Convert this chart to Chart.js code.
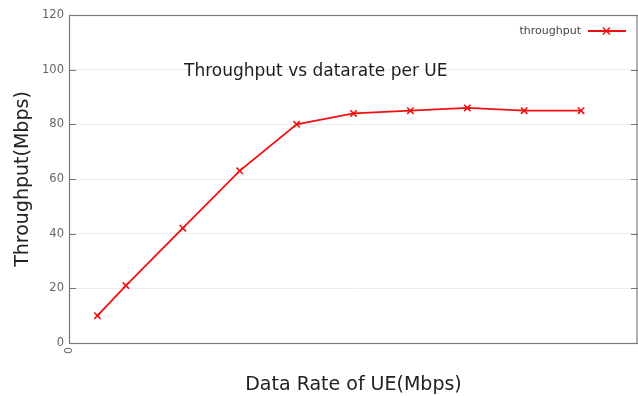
<!DOCTYPE html>
<html>
<head>
<meta charset="utf-8">
<script src="https://cdn.jsdelivr.net/npm/chart.js@4/dist/chart.umd.min.js"></script>
<style>
  html, body { margin: 0; padding: 0; background: #ffffff; }
  #wrap { width: 638px; height: 396px; position: relative; }
</style>
</head>
<body>
<div id="wrap"><canvas id="c"></canvas></div>
<script>
// Offered data rate per UE (Mbps) and measured throughput (Mbps)
const dataRates = [10, 20, 40, 60, 80, 100, 120, 140, 160, 180];
const throughput = [10, 21, 42, 63, 80, 84, 85, 86, 85, 85];
const yTicks = [0, 20, 40, 60, 80, 100, 120];
const xTicks = [0];

const seriesName = 'throughput';
const chartTitle = 'Throughput vs datarate per UE';
const xTitle = 'Data Rate of UE(Mbps)';
const yTitle = 'Throughput(Mbps)';

const RED = '#f01010';
const FONT = '"DejaVu Sans", Verdana, sans-serif';

// Frame, inward tick marks, in-plot title and key
const decorations = {
  id: 'decorations',
  afterDraw(chart) {
    const ctx = chart.ctx;
    const a = chart.chartArea;
    const y = chart.scales.y;
    ctx.save();
    // tick marks pointing into the plot, on both sides
    ctx.strokeStyle = '#777777';
    ctx.lineWidth = 1;
    yTicks.forEach(v => {
      const py = Math.round(y.getPixelForValue(v)) + 0.5;
      ctx.beginPath();
      ctx.moveTo(a.left, py); ctx.lineTo(a.left + 7, py);
      ctx.moveTo(a.right, py); ctx.lineTo(a.right - 7, py);
      ctx.stroke();
    });
    // frame
    ctx.strokeStyle = '#7a7a7a';
    ctx.lineWidth = 1.2;
    ctx.strokeRect(a.left + 0.5, a.top + 0.5, a.right - a.left - 1.5, a.bottom - a.top);
    // title inside the plot
    ctx.fillStyle = '#1e1e1e';
    ctx.font = '17px ' + FONT;
    ctx.textAlign = 'left';
    ctx.textBaseline = 'middle';
    ctx.fillText(chartTitle, 184, 72);
    // key
    ctx.fillStyle = '#444444';
    ctx.font = '11px ' + FONT;
    ctx.textAlign = 'right';
    ctx.fillText(seriesName, 581, 31);
    ctx.strokeStyle = RED;
    ctx.lineWidth = 1.8;
    ctx.beginPath(); ctx.moveTo(588, 31); ctx.lineTo(626, 31); ctx.stroke();
    ctx.lineWidth = 1.5;
    ctx.beginPath();
    ctx.moveTo(603, 27.5); ctx.lineTo(610, 34.5);
    ctx.moveTo(610, 27.5); ctx.lineTo(603, 34.5);
    ctx.stroke();
    ctx.restore();
  }
};

new Chart(document.getElementById('c'), {
  type: 'line',
  data: {
    datasets: [{
      label: seriesName,
      data: dataRates.map((x, i) => ({ x, y: throughput[i] })),
      borderColor: RED,
      backgroundColor: RED,
      borderWidth: 1.8,
      pointStyle: 'crossRot',
      pointRadius: 4.5,
      pointBorderWidth: 1.6,
      pointBorderColor: RED,
      tension: 0,
      fill: false
    }]
  },
  options: {
    responsive: true,
    maintainAspectRatio: false,
    animation: false,
    layout: { autoPadding: false, padding: { top: 15, right: 0, left: 0, bottom: 0 } },
    plugins: {
      legend: { display: false },
      title: { display: false },
      tooltip: { enabled: false }
    },
    scales: {
      x: {
        type: 'linear',
        min: 0,
        max: 200,
        afterBuildTicks: s => { s.ticks = xTicks.map(v => ({ value: v })); },
        afterFit: s => { s.height = 53; s.paddingLeft = 0; s.paddingRight = 0; },
        grid: { display: false, drawTicks: false },
        border: { display: false },
        ticks: {
          minRotation: 90,
          maxRotation: 90,
          padding: 4,
          color: '#666666',
          font: { family: FONT, size: 11 }
        },
        title: {
          display: true,
          text: xTitle,
          color: '#222222',
          font: { family: FONT, size: 19 },
          padding: { top: 0, bottom: 0 }
        }
      },
      y: {
        min: 0,
        max: 120,
        afterBuildTicks: s => { s.ticks = yTicks.map(v => ({ value: v })); },
        afterFit: s => { s.width = 69; s.paddingTop = 0; s.paddingBottom = 0; },
        grid: {
          drawTicks: false,
          color: ctx => (ctx.tick && (ctx.tick.value === 0 || ctx.tick.value === 120)) ? 'rgba(0,0,0,0)' : '#ececec',
          lineWidth: 1
        },
        border: { display: false },
        ticks: {
          padding: 5,
          color: '#666666',
          font: { family: FONT, size: 11.5 }
        },
        title: {
          display: true,
          text: yTitle,
          color: '#222222',
          font: { family: FONT, size: 19 },
          padding: { top: 11.5, bottom: 0 }
        }
      }
    }
  },
  plugins: [decorations]
});
</script>
</body>
</html>
